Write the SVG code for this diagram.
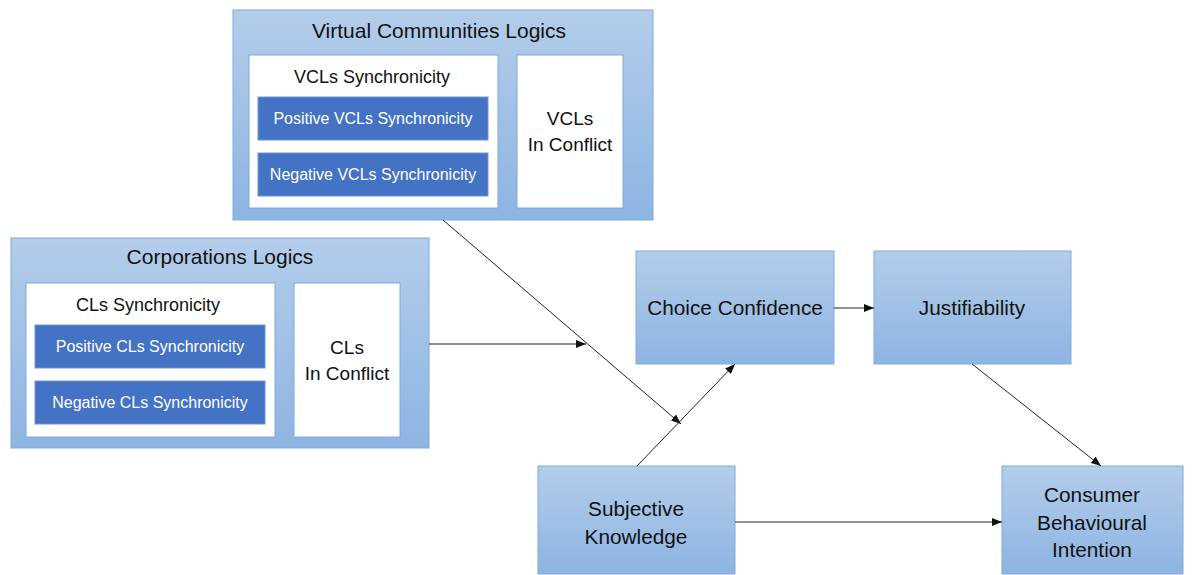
<svg xmlns="http://www.w3.org/2000/svg" width="1194" height="575" viewBox="0 0 1194 575">
<defs>
<linearGradient id="g" x1="0" y1="0" x2="0" y2="1">
<stop offset="0" stop-color="#b3cdea"/>
<stop offset="1" stop-color="#8eb4e2"/>
</linearGradient>
<marker id="ah" markerWidth="10" markerHeight="8" refX="10" refY="4" orient="auto" markerUnits="userSpaceOnUse">
<path d="M0,0 L10,4 L0,8 Z" fill="#111"/>
</marker>
<style>
.box{fill:url(#g);stroke:#80abdc;stroke-width:1}
.white{fill:#fff;stroke:#7ea8da;stroke-width:1}
.blue{fill:#4472c4;stroke:#6f95d4;stroke-width:1}
text{font-family:"Liberation Sans",Arial,sans-serif;fill:#111;text-anchor:middle}
.t21{font-size:21px}
.t20{font-size:20.8px}
.t17{font-size:18px}
.t19{font-size:19px}
.w{font-size:16px;fill:#fff}
.c{stroke:#222;stroke-width:1;fill:none;marker-end:url(#ah)}
</style>
</defs>
<g id="vcl">
<rect class="box" x="233" y="10" width="420" height="210"/>
<text class="t21" x="439" y="38">Virtual Communities Logics</text>
<g id="vcl-sync">
<rect class="white" x="249" y="55" width="249" height="153"/>
<text class="t17" x="372" y="83">VCLs Synchronicity</text>
</g>
<g id="vcl-pos">
<rect class="blue" x="258" y="97" width="230" height="43"/>
<text class="w" x="373" y="124">Positive VCLs Synchronicity</text>
</g>
<g id="vcl-neg">
<rect class="blue" x="258" y="153" width="230" height="43"/>
<text class="w" x="373" y="180">Negative VCLs Synchronicity</text>
</g>
<g id="vcl-conf">
<rect class="white" x="517" y="55" width="106" height="153"/>
<text class="t19" x="570" y="125">VCLs</text>
<text class="t19" x="570" y="151">In Conflict</text>
</g>
</g>
<g id="cl">
<rect class="box" x="11" y="238" width="418" height="210"/>
<text class="t21" x="220" y="264">Corporations Logics</text>
<g id="cl-sync">
<rect class="white" x="26" y="283" width="249" height="154"/>
<text class="t17" x="148" y="311">CLs Synchronicity</text>
</g>
<g id="cl-pos">
<rect class="blue" x="35" y="325" width="230" height="43"/>
<text class="w" x="150" y="352">Positive CLs Synchronicity</text>
</g>
<g id="cl-neg">
<rect class="blue" x="35" y="381" width="230" height="43"/>
<text class="w" x="150" y="408">Negative CLs Synchronicity</text>
</g>
<g id="cl-conf">
<rect class="white" x="294" y="283" width="106" height="154"/>
<text class="t19" x="347" y="354">CLs</text>
<text class="t19" x="347" y="380">In Conflict</text>
</g>
</g>
<g id="choice">
<rect class="box" x="636" y="251" width="198" height="113"/>
<text class="t20" x="735" y="315">Choice Confidence</text>
</g>
<g id="justif">
<rect class="box" x="874" y="251" width="197" height="113"/>
<text class="t20" x="972" y="315">Justifiability</text>
</g>
<g id="subj">
<rect class="box" x="538" y="466" width="197" height="108"/>
<text class="t20" x="636" y="516">Subjective</text>
<text class="t20" x="636" y="544">Knowledge</text>
</g>
<g id="cbi">
<rect class="box" x="1002" y="466" width="181" height="108"/>
<text class="t20" x="1092" y="502">Consumer</text>
<text class="t20" x="1092" y="530">Behavioural</text>
<text class="t20" x="1092" y="557">Intention</text>
</g>
<g id="connectors">
<line class="c" x1="443" y1="220" x2="681" y2="424"/>
<line class="c" x1="429" y1="344" x2="586" y2="344"/>
<line class="c" x1="637" y1="466" x2="735" y2="364"/>
<line class="c" x1="834" y1="308" x2="874" y2="308"/>
<line class="c" x1="972" y1="364" x2="1101" y2="466"/>
<line class="c" x1="735" y1="522" x2="1002" y2="522"/>
</g>
</svg>
